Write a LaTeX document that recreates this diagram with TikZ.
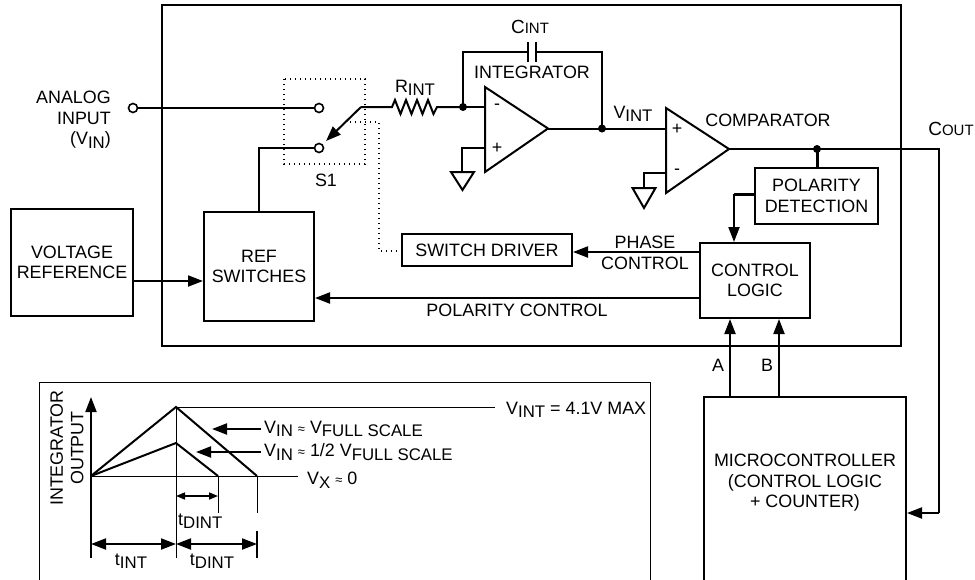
\documentclass[tikz,border=0pt]{standalone}
\usepackage{fontspec}
\setmainfont{Liberation Sans}
\usetikzlibrary{arrows.meta}
\newcommand{\sbs}[1]{\raisebox{-3.5pt}{\fontsize{16.8}{16.8}\selectfont #1}}
\newcommand{\smc}[1]{{\fontsize{15}{15}\selectfont #1}}
\newcommand{\bigc}{{\fontsize{19}{19}\selectfont C}}
\newcommand{\apx}{ {\fontsize{13}{13}\selectfont ≈} }
\begin{document}
\begin{tikzpicture}[x=1pt,y=-1pt,line join=miter,
  txt/.style={font=\fontsize{17.9}{20.5}\selectfont, inner sep=0pt, align=center},
  blk/.style={draw, line width=2pt, txt},
  wire/.style={line width=2pt},
  thinline/.style={line width=1pt},
  heavy/.style={line width=3pt},
  tip/.style={-{Triangle[length=15pt,width=11pt]}},
  bitip/.style={{Triangle[length=15pt,width=11pt]}-{Triangle[length=15pt,width=11pt]}},
  smalltip/.style={{Triangle[length=9pt,width=7pt]}-{Triangle[length=9pt,width=7pt]}},
  dotline/.style={line width=1.4pt, dash pattern=on 1.4pt off 3.6pt},
  term/.style={circle, draw, line width=1.6pt, fill=white, minimum size=9pt, inner sep=0pt},
  jdot/.style={circle, fill=black, minimum size=8pt, inner sep=0pt},
]
\useasboundingbox (0,0) rectangle (975,579);
\clip (0,0) rectangle (975,579);

% ---------- blocks ----------
\node[draw, line width=2pt, minimum width=739pt, minimum height=341pt] (chip) at (531.5,175.5) {};
\node[blk, minimum width=122pt, minimum height=107pt] (vref) at (72,262.5) {VOLTAGE\\REFERENCE};
\node[blk, minimum width=110pt, minimum height=109pt] (refsw) at (259,266.5) {REF\\SWITCHES};
\node[blk, minimum width=170pt, minimum height=32pt] (swdrv) at (487,250) {SWITCH DRIVER};
\node[blk, minimum width=123pt, minimum height=56pt] (pold) at (816.5,196) {POLARITY\\DETECTION};
\node[blk, minimum width=110pt, minimum height=75pt] (ctl) at (755,280.5) {CONTROL\\LOGIC};
\node[draw, line width=2pt, minimum width=202pt, minimum height=300pt] (mcu) at (805,547) {};
\node[txt] (mcutxt) at (805,483) {MICROCONTROLLER\\(CONTROL LOGIC\\+ COUNTER)};
\node[draw, line width=1pt, minimum width=611pt, minimum height=318pt] (gbox) at (344.5,541) {};

% ---------- input and switch ----------
\node[term] (ain) at (133,108) {};
\node[term] (swa) at (319,108) {};
\node[term] (swb) at (319,148) {};
\coordinate (piv) at (361,107);
\coordinate (armend) at (326,141);
\coordinate (refup) at (259,148);
\draw[wire] (ain) -- (swa);
\draw[wire] (swb) -- (refup) -- (refup |- refsw.north);
\draw[wire, tip] (piv) -- (armend);
\node[txt, anchor=east] (ainlbl) at (111,120) {\begin{tabular}{@{}r@{}}ANALOG\\INPUT\\(V\sbs{IN})\end{tabular}};

% S1 dotted
\coordinate (s1a) at (284,79);
\coordinate (s1b) at (365,164);
\draw[dotline] (s1a) rectangle (s1b);
\node[txt] (s1lbl) at (326,180) {S1};
\coordinate (lk1) at (350,122);
\coordinate (lk2) at (379,122);
\coordinate (lk3) at (379,251);
\draw[dotline] (lk1) -- (lk2) -- (lk3) -- (swdrv.west |- lk3);

% resistor
\coordinate (r0) at (392,107);
\coordinate (r1) at (437,107);
\coordinate (nsum) at (463,107);
\draw[wire] (piv) -- (r0) -- ++(3,-7) -- ++(5.5,14) -- ++(5.5,-14) -- ++(5.5,14) -- ++(5.5,-14) -- ++(5.5,14) -- ++(5.5,-14) -- ++(5.5,14) -- (r1) -- (nsum);
\node[txt] (rlbl) at (415,88) {R\sbs{INT}};

% integrator op-amp
\coordinate (ia) at (485,87);
\coordinate (ib) at (485,172);
\coordinate (io) at (548,128.5);
\draw[wire] (ia) -- (io) -- (ib) -- cycle;
\node[txt] (im) at (497,107) {-};
\node[txt] (ip) at (497,148) {+};
\coordinate (iminus) at (485,107);
\coordinate (iplus) at (485,148);
\draw[wire] (nsum) -- (iminus);
\coordinate (ig) at (462,148);
\coordinate (igt) at (462,172);
\draw[wire] (iplus) -- (ig) -- (igt);
\draw[wire] (451,172) -- (474,172) -- (462.5,190) -- cycle;

% feedback capacitor
\coordinate (fb1) at (463,52);
\coordinate (nout) at (602,128.5);
\coordinate (fb2) at (602,52);
\coordinate (c1) at (528,52);
\coordinate (c2) at (536,52);
\draw[wire] (nsum) -- (fb1) -- (c1);
\draw[wire] (c2) -- (fb2) -- (nout);
\draw[wire] (528,42) -- (528,62);
\draw[wire] (536,42) -- (536,62);
\node[txt] (clbl) at (530,27) {\bigc\smc{INT}};
\node[txt] (intlbl) at (532,72) {INTEGRATOR};
\node[jdot] at (nsum) {};
\node[jdot] at (nout) {};

% comparator
\coordinate (ca) at (666,108);
\coordinate (cb) at (666,193);
\coordinate (co) at (729,149);
\draw[wire] (ca) -- (co) -- (cb) -- cycle;
\node[txt] (cp) at (677,129) {+};
\node[txt] (cm) at (677,172) {-};
\coordinate (cplus) at (666,128.5);
\coordinate (cminus) at (666,173);
\draw[wire] (io) -- (nout) -- (cplus);
\node[txt] (vintlbl) at (633,114) {V\sbs{INT}};
\coordinate (cg) at (644,173);
\coordinate (cgt) at (644,188);
\draw[wire] (cminus) -- (cg) -- (cgt);
\draw[wire] (632.5,188) -- (655.5,188) -- (644,208) -- cycle;
\node[txt] (complbl) at (768,120) {COMPARATOR};

% comparator output
\coordinate (cdot) at (817,149);
\coordinate (cr) at (939,149);
\coordinate (cr2) at (939,513);
\draw[wire] (co) -- (cdot) -- (cr) -- (cr2);
\draw[wire, tip] (cr2) -- (cr2 -| mcu.east);
\node[jdot] at (cdot) {};
\draw[heavy] (cdot) -- (cdot |- pold.north);
\node[txt] (coutlbl) at (951,129) {\bigc\smc{OUT}};

% polarity detection -> control logic
\coordinate (pl) at (734,194);
\draw[heavy] (pold.west |- pl) -- (pl);
\draw[wire, tip] (pl) -- (pl |- ctl.north);

% phase control
\coordinate (ph) at (700,252);
\draw[wire, tip] (ph) -- (ph -| swdrv.east);
\node[txt] (phlbl) at (645,253) {PHASE\\CONTROL};

% polarity control
\coordinate (pc) at (700,298);
\draw[wire, tip] (pc) -- (pc -| refsw.east);
\node[txt] (pclbl) at (517,310) {POLARITY CONTROL};

% vref -> ref switches
\coordinate (vr) at (133,281);
\draw[wire, tip] (vr) -- (vr -| refsw.west);

% A / B
\coordinate (a0) at (730,397);
\coordinate (b0) at (779,397);
\draw[wire, tip] (a0) -- (a0 |- ctl.south);
\draw[wire, tip] (b0) -- (b0 |- ctl.south);
\node[txt] (albl) at (718,365) {A};
\node[txt] (blbl) at (767,365) {B};

% ---------- timing graph ----------
\coordinate (o) at (91,476);
\coordinate (ytop) at (91,397);
\coordinate (ybot) at (91,558);
\coordinate (pk) at (176,407);
\coordinate (hpk) at (176,443);
\coordinate (fe) at (257,476);
\coordinate (he) at (218,476);
\draw[wire, tip] (ybot) -- (ytop);
\draw[thinline] (o) -- (298,476);
\draw[thinline] (pk) -- (495,407);
\draw[thinline] (pk) -- (176,558);
\draw[thinline] (he) -- (218,513);
\draw[thinline] (fe) -- (257,513);
\draw[wire] (257,531) -- (257,558);
\draw[wire] (o) -- (pk) -- (fe);
\draw[wire] (o) -- (hpk) -- (he);
\coordinate (l1) at (261,429);
\coordinate (l1e) at (212,429);
\coordinate (l2) at (261,452);
\coordinate (l2e) at (196,452);
\draw[wire, tip] (l1) -- (l1e);
\draw[wire, tip] (l2) -- (l2e);
\draw[line width=1.6pt, smalltip] (176,496) -- (218,496);
\draw[wire, bitip] (91,544) -- (176,544);
\draw[wire, bitip] (176,544) -- (257,544);

\node[txt, anchor=west] (g1) at (506,410) {V\sbs{INT} = 4.1V MAX};
\node[txt, anchor=west] (g2) at (264,429) {V\sbs{IN}\apx V\sbs{FULL SCALE}};
\node[txt, anchor=west] (g3) at (264,452) {V\sbs{IN}\apx 1/2 V\sbs{FULL SCALE}};
\node[txt, anchor=west] (g4) at (307,480) {V\sbs{X}\apx 0};
\node[txt, anchor=west] (g5) at (178,521) {t\sbs{DINT}};
\node[txt] (g6) at (131,561) {t\sbs{INT}};
\node[txt] (g7) at (212,561) {t\sbs{DINT}};
\node[txt, rotate=90] (g8) at (67,448) {INTEGRATOR\\OUTPUT};
\end{tikzpicture}
\end{document}
